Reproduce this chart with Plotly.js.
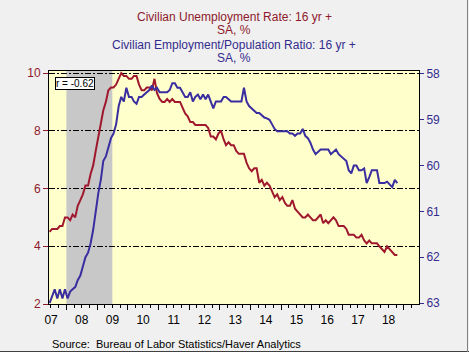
<!DOCTYPE html>
<html>
<head>
<meta charset="utf-8">
<script src="https://cdn.plot.ly/plotly-3.0.1.min.js"></script>
<style>
  html, body { margin: 0; padding: 0; background: #F0F0F0; }
  #chart { width: 469px; height: 352px; }
</style>
</head>
<body>
<div id="chart"></div>
<script>
// ---- Data (monthly, Jun 2007 - Oct 2018) ----
const startYear = 2007;
const startMonth = 6;

// Civilian Unemployment Rate: 16 yr +, SA, %
const unemploymentRate = [
  4.5, 4.6, 4.6, 4.6, 4.7, 4.7, 5.0,                               // 2007 Jun-Dec
  5.0, 4.9, 5.1, 5.0, 5.4, 5.6, 5.8, 6.1, 6.1, 6.5, 6.8, 7.3,     // 2008
  7.8, 8.3, 8.7, 9.0, 9.4, 9.5, 9.5, 9.6, 9.8, 10.0, 9.9, 9.9,    // 2009
  9.8, 9.8, 9.9, 9.9, 9.6, 9.4, 9.4, 9.5, 9.5, 9.4, 9.8, 9.3,     // 2010
  9.1, 9.0, 9.0, 9.1, 9.0, 9.1, 9.0, 9.0, 9.0, 8.8, 8.6, 8.5,     // 2011
  8.3, 8.3, 8.2, 8.2, 8.2, 8.2, 8.2, 8.1, 7.8, 7.8, 7.7, 7.9,     // 2012
  8.0, 7.7, 7.5, 7.6, 7.5, 7.5, 7.3, 7.2, 7.2, 7.2, 6.9, 6.7,     // 2013
  6.6, 6.7, 6.7, 6.2, 6.3, 6.1, 6.2, 6.1, 5.9, 5.7, 5.8, 5.6,     // 2014
  5.7, 5.5, 5.4, 5.4, 5.6, 5.3, 5.2, 5.1, 5.0, 5.0, 5.1, 5.0,     // 2015
  4.9, 4.9, 5.0, 5.1, 4.8, 4.9, 4.8, 4.9, 5.0, 4.9, 4.7, 4.7,     // 2016
  4.7, 4.6, 4.4, 4.4, 4.4, 4.3, 4.3, 4.4, 4.2, 4.1, 4.2, 4.1,     // 2017
  4.1, 4.1, 4.0, 3.9, 3.8, 4.0, 3.9, 3.8, 3.7, 3.7                // 2018 Jan-Oct
];

// Civilian Employment/Population Ratio: 16 yr +, SA, %
const employmentRatio = [
  63.0, 62.85, 62.7, 62.9, 62.7, 62.9, 62.7,                                  // 2007 Jun-Dec
  62.9, 62.75, 62.7, 62.65, 62.5, 62.4, 62.2, 62.0, 61.9, 61.7, 61.4, 61.0,  // 2008
  60.6, 60.3, 59.9, 59.8, 59.6, 59.4, 59.3, 59.1, 58.7, 58.5, 58.6, 58.3,    // 2009
  58.5, 58.5, 58.6, 58.65, 58.5, 58.5, 58.45, 58.4, 58.35, 58.25, 58.35, 58.3, // 2010
  58.4, 58.4, 58.4, 58.4, 58.35, 58.2, 58.2, 58.3, 58.3, 58.4, 58.5, 58.5,   // 2011
  58.4, 58.6, 58.5, 58.45, 58.55, 58.45, 58.55, 58.45, 58.6, 58.75, 58.6, 58.6, // 2012
  58.6, 58.5, 58.5, 58.55, 58.6, 58.6, 58.6, 58.6, 58.6, 58.3, 58.6, 58.7,   // 2013
  58.75, 58.8, 58.85, 58.85, 58.9, 58.95, 58.97, 59.0, 59.1, 59.2, 59.25, 59.25, // 2014
  59.25, 59.25, 59.25, 59.3, 59.3, 59.35, 59.3, 59.3, 59.2, 59.35, 59.4, 59.5, // 2015
  59.65, 59.75, 59.7, 59.65, 59.65, 59.65, 59.65, 59.75, 59.7, 59.65, 59.75, 59.8, // 2016
  59.85, 59.9, 60.1, 60.17, 60.0, 60.0, 60.1, 60.1, 60.06, 60.38, 60.25, 60.1, // 2017
  60.1, 60.1, 60.38, 60.38, 60.38, 60.35, 60.4, 60.47, 60.31, 60.38           // 2018 Jan-Oct
];

const leftTicks = [2, 4, 6, 8, 10];
const rightTicks = [58, 59, 60, 61, 62, 63];
const recession = ['2008-01-01', '2009-07-01'];
const titleLines = [
  'Civilian Unemployment Rate: 16 yr +',
  'SA, %',
  'Civilian Employment/Population Ratio: 16 yr +',
  'SA, %'
];
const sourceText = 'Source:  Bureau of Labor Statistics/Haver Analytics';
const corrText = 'r = -0.62';

// ---- Dates (mid-month) ----
const dates = unemploymentRate.map((_, i) => {
  const m0 = startMonth - 1 + i;
  const y = startYear + Math.floor(m0 / 12);
  const m = (m0 % 12) + 1;
  return y + '-' + String(m).padStart(2, '0') + '-15';
});

const RED = '#A0182E';
const RED_TXT = '#8E1A2C';
const BLUE = '#3A2DA0';
const BLUE_TXT = '#332C8E';
const FONT = 'Liberation Sans, Arial, sans-serif';

const traces = [
  {
    x: dates, y: unemploymentRate, type: 'scatter', mode: 'lines',
    line: { color: RED, width: 2 }, yaxis: 'y', hoverinfo: 'skip'
  },
  {
    x: dates, y: employmentRatio, type: 'scatter', mode: 'lines',
    line: { color: BLUE, width: 2 }, yaxis: 'y2', hoverinfo: 'skip'
  }
];

// plot area: x 49..419, y 71..304
const PT = 71, PB = 304, PL = 49, PR = 419;
const PH = PB - PT, PW = PR - PL;
const py = px => (PB - px) / PH;
const pxx = px => (px - PL) / PW;

const titleY = [17, 30, 45, 58.5];
const titleCol = [RED_TXT, RED_TXT, BLUE_TXT, BLUE_TXT];

const annotations = titleLines.map((t, i) => ({
  text: t, xref: 'paper', yref: 'paper', x: 0.5, y: py(titleY[i]),
  xanchor: 'center', yanchor: 'middle', showarrow: false, borderpad: 0,
  font: { family: FONT, size: 12, color: titleCol[i] }
}));
annotations.push({
  text: sourceText, xref: 'paper', yref: 'paper', x: pxx(50), y: py(344),
  xanchor: 'left', yanchor: 'middle', showarrow: false,
  font: { family: FONT, size: 11, color: '#000' }
});
annotations.push({
  text: corrText, xref: 'paper', yref: 'paper', x: pxx(55), y: py(77),
  xanchor: 'left', yanchor: 'top', showarrow: false,
  bgcolor: '#FFFFFF', bordercolor: '#000', borderwidth: 1, borderpad: 0,
  font: { family: FONT, size: 10, color: '#000' }
});

const layout = {
  width: 469, height: 352,
  margin: { l: PL, r: 469 - PR, t: PT, b: 352 - PB, pad: 0 },
  paper_bgcolor: '#F0F0F0',
  plot_bgcolor: '#FFFFCC',
  showlegend: false,
  font: { family: FONT, size: 12 },
  xaxis: {
    type: 'date',
    range: ['2007-06-08', '2019-06-30'],
    tick0: '2007-01-01', dtick: 'M12',
    ticklabelmode: 'period', tickformat: '%y',
    ticks: 'outside', ticklen: 5, tickcolor: '#000', tickwidth: 1,
    minor: { dtick: 'M3', ticks: 'outside', ticklen: 3, tickcolor: '#000', showgrid: false },
    showgrid: false, zeroline: false,
    showline: true, linecolor: '#000', linewidth: 1, mirror: true,
    tickfont: { family: FONT, size: 12, color: '#000' }
  },
  yaxis: {
    range: [2, 10.07],
    tickvals: leftTicks,
    ticks: 'outside', ticklen: 5, tickcolor: RED_TXT,
    tickfont: { family: FONT, size: 12, color: RED_TXT },
    showgrid: true, gridcolor: '#000', gridwidth: 1, griddash: '6px,2px,2px,2px',
    zeroline: false,
    showline: true, linecolor: '#000', linewidth: 1
  },
  yaxis2: {
    overlaying: 'y', side: 'right',
    range: [63.02, 57.935],
    tickvals: rightTicks,
    ticks: 'outside', ticklen: 4, tickcolor: BLUE_TXT,
    tickfont: { family: FONT, size: 12, color: BLUE_TXT },
    showgrid: false, zeroline: false,
    showline: true, linecolor: '#000', linewidth: 1
  },
  shapes: [
    {
      type: 'rect', xref: 'x', yref: 'paper',
      x0: recession[0], x1: recession[1], y0: 0, y1: 1,
      fillcolor: '#C8C8C8', line: { width: 0 }, layer: 'below'
    },
    {
      type: 'line', xref: 'paper', yref: 'paper',
      x0: pxx(0), x1: pxx(469), y0: py(351.5), y1: py(351.5),
      line: { color: '#404040', width: 1 }
    },
    {
      type: 'line', xref: 'paper', yref: 'paper',
      x0: pxx(467.5), x1: pxx(467.5), y0: py(0), y1: py(352),
      line: { color: '#808080', width: 1 }
    }
  ],
  annotations: annotations
};

Plotly.newPlot('chart', traces, layout, { staticPlot: true, displayModeBar: false });
</script>
</body>
</html>
